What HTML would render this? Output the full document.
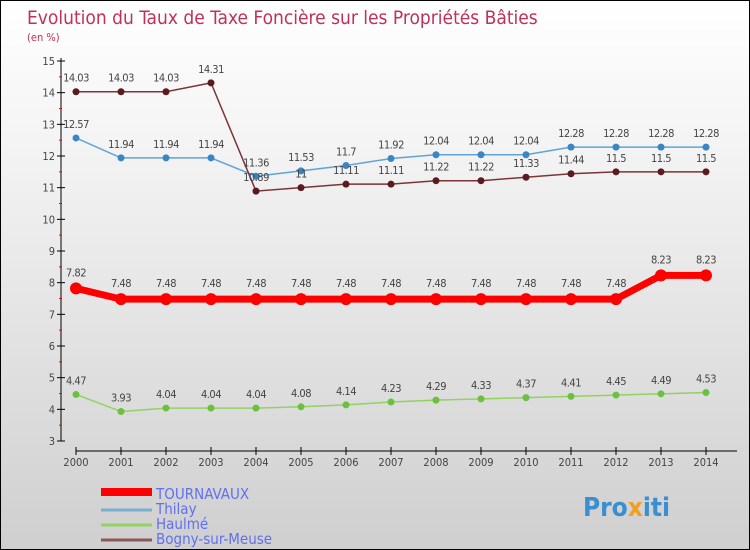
<!DOCTYPE html>
<html><head><meta charset="utf-8"><style>
body{margin:0}
#c{width:750px;height:550px;position:relative;box-sizing:border-box;border:1px solid #000;background:linear-gradient(#ffffff,#f2f2f2 30%,#cfcfcf);font-family:"DejaVu Sans Condensed","Liberation Sans Narrow","Liberation Sans",sans-serif;overflow:hidden}
svg text{font-family:"DejaVu Sans Condensed","Liberation Sans",sans-serif}
</style></head><body>
<div id="c">
<svg id="s" width="750" height="550" style="position:absolute;left:0;top:0">
<text x="26" y="23" font-size="19" fill="#c0305a">Evolution du Taux de Taxe Foncière sur les Propriétés Bâties</text>
<text x="26" y="40" font-size="11" fill="#c0305a">(en %)</text>
<text x="582" y="515" font-size="26" font-weight="bold" fill="#3a8fd0">Pro<tspan fill="#f0a020">x</tspan>iti</text>
</svg>
</div>
<script>
const years=[2000,2001,2002,2003,2004,2005,2006,2007,2008,2009,2010,2011,2012,2013,2014];
const yTicks=[3,4,5,6,7,8,9,10,11,12,13,14,15];
const tournavaux=[7.82,7.48,7.48,7.48,7.48,7.48,7.48,7.48,7.48,7.48,7.48,7.48,7.48,8.23,8.23];
const thilay=[12.57,11.94,11.94,11.94,11.36,11.53,11.7,11.92,12.04,12.04,12.04,12.28,12.28,12.28,12.28];
const haulme=[4.47,3.93,4.04,4.04,4.04,4.08,4.14,4.23,4.29,4.33,4.37,4.41,4.45,4.49,4.53];
const bogny=[14.03,14.03,14.03,14.31,10.89,11,11.11,11.11,11.22,11.22,11.33,11.44,11.5,11.5,11.5];
const seriesNames=["TOURNAVAUX","Thilay","Haulmé","Bogny-sur-Meuse"];
const NS="http://www.w3.org/2000/svg",s=document.getElementById('s');
const X=i=>75+i*45, Y=v=>440-(v-3)*31.667;
function el(t,a,p){const e=document.createElementNS(NS,t);for(const k in a)e.setAttribute(k,a[k]);(p||s).appendChild(e);return e;}
const ax=el('g',{});


el('line',{x1:60,y1:57,x2:60,y2:440,stroke:'#000'},ax);
el('line',{x1:75,y1:450,x2:736,y2:450,stroke:'#000'},ax);
yTicks.forEach(v=>{el('line',{x1:56,x2:64,y1:Y(v),y2:Y(v),stroke:'#000'},ax);
 if(v<15)el('line',{x1:58,x2:61,y1:Y(v+0.5),y2:Y(v+0.5),stroke:'#f00'},ax);
 const t=el('text',{x:54,y:Y(v)+4,'text-anchor':'end','font-size':11,fill:'#444'},ax);t.textContent=v;
 
 });
years.forEach((y,i)=>{el('line',{x1:X(i),x2:X(i),y1:446,y2:454,stroke:'#000'},ax);
 const t=el('text',{x:X(i),y:465,'text-anchor':'middle','font-size':11,fill:'#444'},ax);t.textContent=y;
 
 });
const defs=[[thilay,'#5ea4d8','#3a86c4',1.5,3.5,-10],[haulme,'#92d260','#6cc040',1.5,3.5,-10],[bogny,'#7a3538','#5a1a1e',1.5,3.5,-10],[tournavaux,'#f00','#f00',7,6,-12]];
const nm=['thilay','haulme','bogny','tournavaux'];
defs.forEach((d,k)=>{const g=el('g',{});
 
 
 el('polyline',{points:d[0].map((v,i)=>X(i)+','+Y(v)).join(' '),fill:'none',stroke:d[1],'stroke-width':d[3]},g);
 d[0].forEach((v,i)=>{const c=el('circle',{cx:X(i),cy:Y(v),r:d[4],fill:d[2]},g);
  
  
  const t=el('text',{x:X(i),y:Y(v)+d[5],'text-anchor':'middle','font-size':11,fill:'#444','letter-spacing':'-0.5'},g);t.textContent=String(v);
  
  });});
const lc=['#f00','#7aaed0','#92d260','#8a5a5a'],lw=[8,3,3,3];
seriesNames.forEach((n,i)=>{const y=492+i*15;const g=el('g',{});
 
 
 el('line',{x1:100,x2:151,y1:y+(i==0?-1:2),y2:y+(i==0?-1:2),stroke:lc[i],'stroke-width':lw[i]},g);
 const t=el('text',{x:155,y:y+6,'font-size':15,fill:'#6070f0'},g);t.textContent=n;});
</script>
</body></html>
